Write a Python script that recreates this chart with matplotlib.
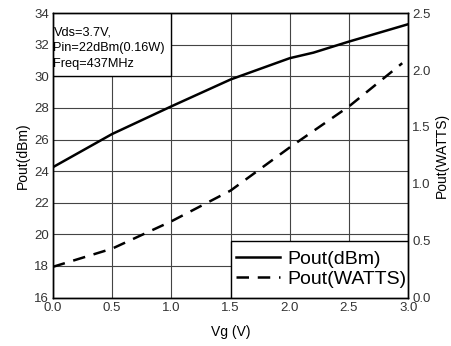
import matplotlib
matplotlib.use('Agg')
import matplotlib.pyplot as plt
from matplotlib.patches import Rectangle

plt.rcParams['font.family'] = ['Liberation Sans', 'DejaVu Sans']

# data
vg_dbm = [0.0, 0.5, 1.0, 1.5, 2.0, 2.2, 2.5, 3.0]
pout_dbm = [24.25, 26.35, 28.1, 29.8, 31.15, 31.5, 32.2, 33.3]
vg_w = [0.0, 0.5, 1.0, 1.5, 2.0, 2.5, 2.95]
pout_w = [0.27, 0.43, 0.67, 0.94, 1.32, 1.68, 2.06]

x_ticks = [0.0, 0.5, 1.0, 1.5, 2.0, 2.5, 3.0]
dbm_ticks = [16, 18, 20, 22, 24, 26, 28, 30, 32, 34]
w_ticks = [0.0, 0.5, 1.0, 1.5, 2.0, 2.5]
note = 'Vds=3.7V,\nPin=22dBm(0.16W)\nFreq=437MHz'

fig = plt.figure(figsize=(4.52, 3.46), dpi=100)
ax = fig.add_axes([0.117, 0.14, 0.786, 0.822])
ax2 = ax.twinx()

ax.set_xlim(0, 3)
ax.set_ylim(16, 34)
ax2.set_ylim(0, 2.5)
ax.set_xticks(x_ticks)
ax.set_xticklabels(['%.1f' % v for v in x_ticks])
ax.set_yticks(dbm_ticks)
ax2.set_yticks(w_ticks)
ax2.set_yticklabels(['%.1f' % v for v in w_ticks])

ax.grid(True, color='#444444', linewidth=0.8)
for a in (ax, ax2):
    a.tick_params(length=0, pad=3, labelsize=9.5, colors='#333333')
    for s in a.spines.values():
        s.set_linewidth(1.0)
        s.set_color('black')

l1, = ax.plot(vg_dbm, pout_dbm, color='black', lw=1.8, zorder=3)
l2, = ax2.plot(vg_w, pout_w, color='black', lw=1.8, ls=(0, (5, 3.5)), zorder=3)

ax.set_xlabel('Vg (V)', fontsize=10, labelpad=8)
ax.set_ylabel('Pout(dBm)', fontsize=10, labelpad=3)
ax2.set_ylabel('Pout(WATTS)', fontsize=10, labelpad=3)

# annotation box in the top-left corner
ax2.add_patch(Rectangle((0, 2.5 * 14 / 18), 1.0, 2.5 * 4 / 18, facecolor='white',
                        edgecolor='black', lw=1.0, zorder=2))
ax2.text(0.005, 2.385, note, fontsize=9.2, va='top', ha='left', linespacing=1.45, zorder=4)

# legend box in the lower-right corner
ax2.add_patch(Rectangle((1.5, 0), 1.5, 0.5, facecolor='white',
                        edgecolor='black', lw=1.0, zorder=2))
leg = ax2.legend([l1, l2], ['Pout(dBm)', 'Pout(WATTS)'],
                 loc='center right', bbox_to_anchor=(0.5, 0.0, 0.5, 0.2),
                 borderaxespad=0, frameon=False,
                 fontsize=14, handlelength=2.3, handletextpad=0.35,
                 borderpad=0.1, labelspacing=0.15)
leg.set_zorder(5)

fig.savefig('out.png', dpi=100)
